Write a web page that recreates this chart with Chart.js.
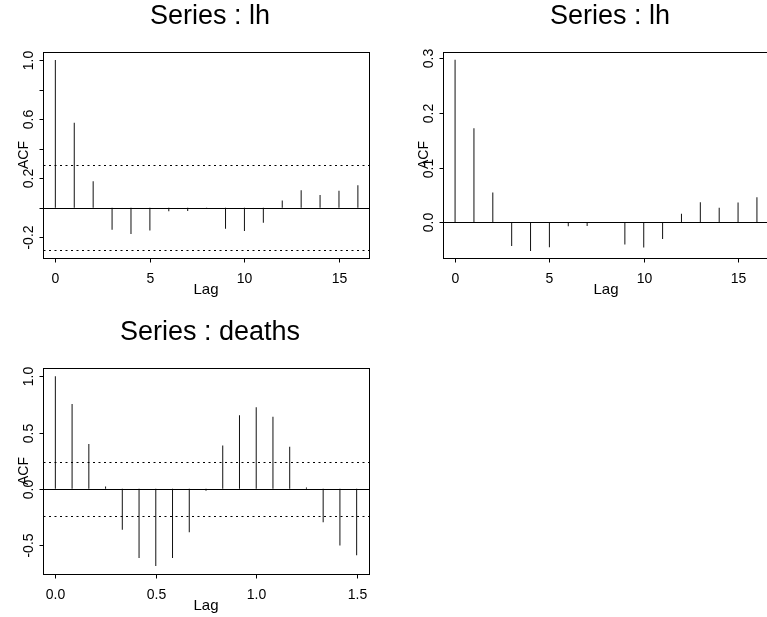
<!DOCTYPE html>
<html>
<head>
<meta charset="utf-8">
<script src="https://cdn.jsdelivr.net/npm/chart.js@4.4.1/dist/chart.umd.min.js"></script>
<style>
  html, body { margin: 0; padding: 0; background: #fff; overflow: hidden; }
  #page { position: relative; width: 767px; height: 617px; overflow: hidden; background: #fff; }
  canvas { position: absolute; }
</style>
</head>
<body>
<div id="page">
  <canvas id="acfLh" width="384" height="308" style="left:0;top:0"></canvas>
  <canvas id="covLh" width="390" height="308" style="left:384px;top:0"></canvas>
  <canvas id="acfDeaths" width="384" height="309" style="left:0;top:308px"></canvas>
</div>
<script>
// lags
const lhLags = [0, 1, 2, 3, 4, 5, 6, 7, 8, 9, 10, 11, 12, 13, 14, 15, 16];
const deathsLags = [0, 0.0833, 0.1667, 0.25, 0.3333, 0.4167, 0.5, 0.5833, 0.6667,
  0.75, 0.8333, 0.9167, 1, 1.0833, 1.1667, 1.25, 1.3333, 1.4167, 1.5];

// series values
const lhAcf = [1.0, 0.575, 0.179, -0.149, -0.179, -0.154, -0.025, -0.023, -0.007,
  -0.143, -0.159, -0.102, 0.048, 0.118, 0.085, 0.115, 0.152];
const lhCov = [0.2976, 0.172, 0.0545, -0.0435, -0.0527, -0.046, -0.0073, -0.0067, -0.001,
  -0.041, -0.0465, -0.0306, 0.0153, 0.0368, 0.0263, 0.0361, 0.0459];
const deathsAcf = [1.0, 0.755, 0.398, 0.02, -0.363, -0.614, -0.687, -0.614, -0.386,
  -0.018, 0.386, 0.655, 0.726, 0.64, 0.375, 0.012, -0.298, -0.504, -0.59];

// confidence bounds (dotted lines)
const lhClim = 0.288;
const deathsClim = 0.238;

// tick values and labels
const lhXTicks = [0, 5, 10, 15];
const lhXLabels = ["0", "5", "10", "15"];
const deathsXTicks = [0, 0.5, 1, 1.5];
const deathsXLabels = ["0.0", "0.5", "1.0", "1.5"];
const lhAcfYTicks = [-0.2, 0, 0.2, 0.4, 0.6, 0.8, 1.0];
const lhAcfYLabels = ["-0.2", "", "0.2", "", "0.6", "", "1.0"];
const lhCovYTicks = [0, 0.1, 0.2, 0.3];
const lhCovYLabels = ["0.0", "0.1", "0.2", "0.3"];
const deathsYTicks = [-0.5, 0, 0.5, 1.0];
const deathsYLabels = ["-0.5", "0.0", "0.5", "1.0"];

const FONT = "'Liberation Sans', Arial, Helvetica, sans-serif";

function crisp(v) {
  return Math.round(v) + 0.5;
}

// R-like frame, axes, titles and reference lines
const rFrame = {
  id: "rFrame",
  afterDatasetsDraw(chart, args, opts) {
    const { ctx, chartArea: a } = chart;
    const x = chart.scales.x;
    const y = chart.scales.y;
    const left = crisp(a.left);
    const right = crisp(a.right);
    const top = crisp(a.top);
    const bottom = crisp(a.bottom);
    ctx.save();
    ctx.strokeStyle = "#000";
    ctx.fillStyle = "#000";
    ctx.lineWidth = 1;

    // zero line
    const y0 = crisp(y.getPixelForValue(0));
    ctx.beginPath();
    ctx.moveTo(left, y0);
    ctx.lineTo(right, y0);
    ctx.stroke();

    // confidence limits
    if (opts.clim) {
      ctx.setLineDash([2, 3.5]);
      [opts.clim, -opts.clim].forEach((v) => {
        const py = crisp(y.getPixelForValue(v));
        ctx.beginPath();
        ctx.moveTo(left, py);
        ctx.lineTo(right, py);
        ctx.stroke();
      });
      ctx.setLineDash([]);
    }

    // box
    ctx.strokeRect(left, top, right - left, bottom - top);

    // x axis
    ctx.font = "14px " + FONT;
    ctx.textAlign = "center";
    ctx.textBaseline = "alphabetic";
    opts.xTicks.forEach((v, i) => {
      const px = crisp(x.getPixelForValue(v));
      ctx.beginPath();
      ctx.moveTo(px, bottom);
      ctx.lineTo(px, bottom + 4);
      ctx.stroke();
      ctx.fillText(opts.xLabels[i], px, bottom + 24);
    });
    ctx.font = "15px " + FONT;
    ctx.fillText("Lag", (a.left + a.right) / 2, bottom + 35);

    // y axis, labels read upwards
    opts.yTicks.forEach((v, i) => {
      const py = crisp(y.getPixelForValue(v));
      ctx.beginPath();
      ctx.moveTo(left - 4, py);
      ctx.lineTo(left, py);
      ctx.stroke();
      if (opts.yLabels[i]) {
        ctx.save();
        ctx.translate(left - 10.5, py);
        ctx.rotate(-Math.PI / 2);
        ctx.font = "14px " + FONT;
        ctx.fillText(opts.yLabels[i], 0, 0);
        ctx.restore();
      }
    });
    ctx.save();
    ctx.translate(left - 16, (a.top + a.bottom) / 2);
    ctx.rotate(-Math.PI / 2);
    ctx.font = "14px " + FONT;
    ctx.fillText("ACF", 0, 0);
    ctx.restore();

    // main title
    ctx.font = "27px " + FONT;
    ctx.fillText(opts.title, (a.left + a.right) / 2 + 4, opts.titleY);
    ctx.restore();
  }
};

function makePanel(id, lags, values, cfg) {
  return new Chart(document.getElementById(id), {
    type: "bar",
    data: {
      datasets: [
        {
          data: lags.map((lag, i) => ({ x: lag, y: values[i] })),
          backgroundColor: "#111",
          borderWidth: 0,
          inflateAmount: 0,
          barThickness: 1
        }
      ]
    },
    options: {
      responsive: false,
      animation: false,
      events: [],
      layout: { padding: cfg.padding },
      scales: {
        x: { type: "linear", min: cfg.xRange[0], max: cfg.xRange[1], display: false, offset: false },
        y: { type: "linear", min: cfg.yRange[0], max: cfg.yRange[1], display: false }
      },
      plugins: {
        legend: { display: false },
        tooltip: { enabled: false },
        rFrame: {
          title: cfg.title,
          titleY: cfg.titleY,
          clim: cfg.clim,
          xTicks: cfg.xTicks,
          xLabels: cfg.xLabels,
          yTicks: cfg.yTicks,
          yLabels: cfg.yLabels
        }
      }
    },
    plugins: [rFrame]
  });
}

makePanel("acfLh", lhLags, lhAcf, {
  padding: { left: 43, top: 52, right: 15, bottom: 50 },
  xRange: [-0.653, 16.588],
  yRange: [-0.341, 1.054],
  title: "Series : lh",
  titleY: 24,
  clim: lhClim,
  xTicks: lhXTicks,
  xLabels: lhXLabels,
  yTicks: lhAcfYTicks,
  yLabels: lhAcfYLabels
});

makePanel("covLh", lhLags, lhCov, {
  padding: { left: 59, top: 52, right: 5, bottom: 50 },
  xRange: [-0.64, 16.64],
  yRange: [-0.0655, 0.3117],
  title: "Series : lh",
  titleY: 24,
  clim: null,
  xTicks: lhXTicks,
  xLabels: lhXLabels,
  yTicks: lhCovYTicks,
  yLabels: lhCovYLabels
});

makePanel("acfDeaths", deathsLags, deathsAcf, {
  padding: { left: 43, top: 60, right: 15, bottom: 43 },
  xRange: [-0.0615, 1.5615],
  yRange: [-0.757, 1.074],
  title: "Series : deaths",
  titleY: 32,
  clim: deathsClim,
  xTicks: deathsXTicks,
  xLabels: deathsXLabels,
  yTicks: deathsYTicks,
  yLabels: deathsYLabels
});
</script>
</body>
</html>
